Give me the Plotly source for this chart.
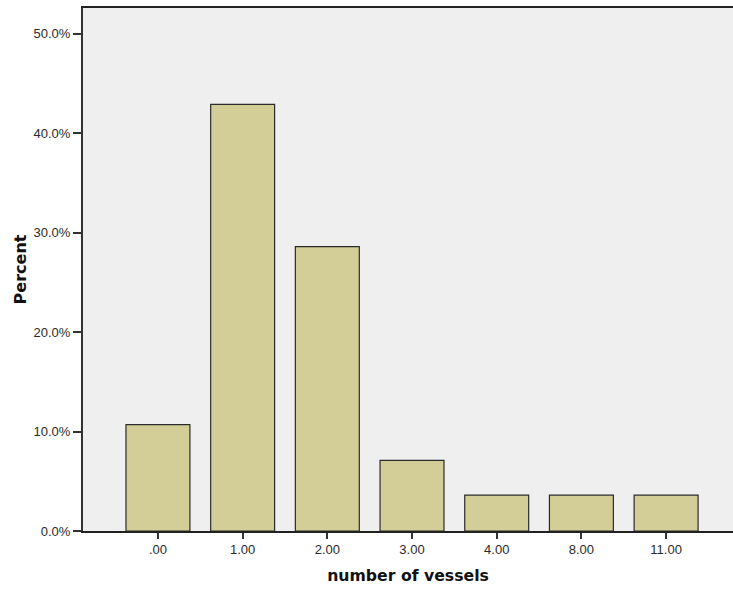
import plotly.graph_objects as go

# Frequency distribution of number of vessels (percent of cases)
categories = [".00", "1.00", "2.00", "3.00", "4.00", "8.00", "11.00"]
percents = [10.7, 42.9, 28.6, 7.1, 3.6, 3.6, 3.6]
y_ticks = [0, 10, 20, 30, 40, 50]
y_tick_labels = ["0.0%", "10.0%", "20.0%", "30.0%", "40.0%", "50.0%"]

font_family = "Liberation Sans, Arial, sans-serif"
title_family = "DejaVu Sans, Verdana, sans-serif"

fig = go.Figure(
    go.Bar(
        x=list(range(len(categories))),
        y=percents,
        width=0.755,
        marker=dict(color="#D3CE98", line=dict(color="#2b2b2b", width=1.2)),
        hoverinfo="skip",
    )
)

fig.update_layout(
    width=733,
    height=591,
    margin=dict(l=83, r=0, t=8, b=60),
    paper_bgcolor="white",
    plot_bgcolor="#EFEFEF",
    showlegend=False,
    font=dict(family=font_family, size=13, color="#222"),
)

fig.update_xaxes(
    range=[-0.885, 6.79],
    tickmode="array",
    tickvals=list(range(len(categories))),
    ticktext=categories,
    ticks="outside",
    ticklen=6,
    tickwidth=1.5,
    tickcolor="#333",
    showline=True,
    linecolor="#222",
    linewidth=1.5,
    mirror=True,
    showgrid=False,
    zeroline=False,
    tickfont=dict(family=font_family, size=13, color="#2a2a2a"),
    title=dict(
        text="<b>number of vessels</b>",
        font=dict(family=title_family, size=15.7, color="#111"),
        standoff=14,
    ),
)

fig.update_yaxes(
    range=[0, 52.6],
    tickmode="array",
    tickvals=y_ticks,
    ticktext=y_tick_labels,
    ticks="outside",
    ticklen=8,
    tickwidth=2,
    tickcolor="#333",
    showline=True,
    linecolor="#333",
    linewidth=2,
    showgrid=False,
    zeroline=False,
    tickfont=dict(family=font_family, size=13, color="#2a2a2a"),
    title=dict(
        text="<b>Percent</b>",
        font=dict(family=title_family, size=16, color="#111"),
        standoff=3,
    ),
)

fig.write_html("out.html")
